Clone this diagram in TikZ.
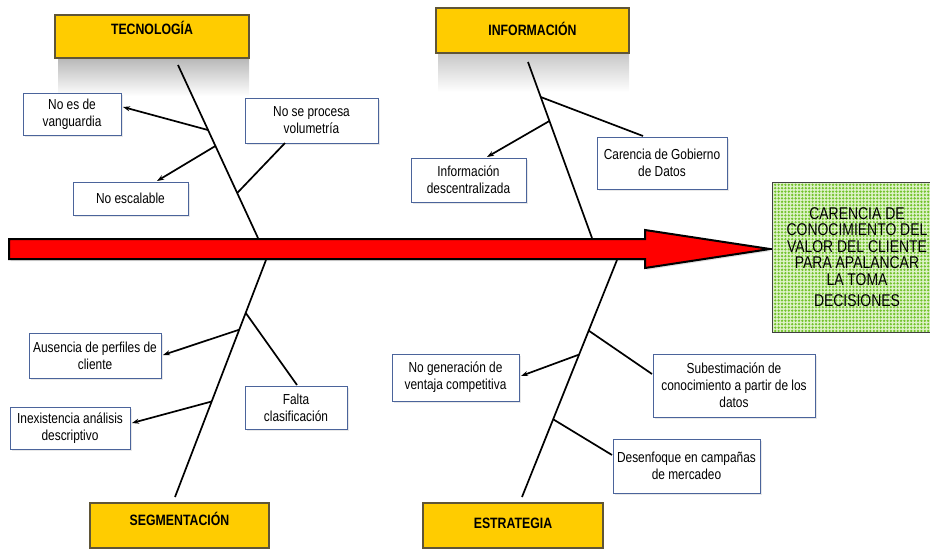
\documentclass[tikz,border=0pt]{standalone}
\usepackage{fontspec}
\setmainfont{Liberation Sans}[FakeStretch=0.82]
\usetikzlibrary{arrows.meta,shadows,patterns.meta,calc}
\definecolor{hdryellow}{RGB}{255,204,0}
\definecolor{hdrborder}{RGB}{95,85,55}
\definecolor{boxblue}{RGB}{75,100,155}
\definecolor{dotgreen}{RGB}{115,195,45}
\definecolor{palegreen}{RGB}{222,242,200}
\begin{document}
\begin{tikzpicture}[x=1pt,y=-1pt,
  header/.style={draw=hdrborder, line width=1.2pt, fill=hdryellow, inner sep=0pt,
    text height=10pt, font=\bfseries\fontsize{15}{16}\selectfont},
  cause/.style={draw=boxblue, line width=0.9pt, fill=white, inner sep=0pt, align=center,
    font=\fontsize{14.5}{17}\selectfont,
    drop shadow={opacity=0.18, shadow xshift=1.5pt, shadow yshift=-1.5pt}},
  bone/.style={line width=1.7pt, draw=black},
  arr/.style={bone, -{Stealth[length=7pt,width=5pt]}},
]
\useasboundingbox (0,0) rectangle (930,552);

% header shadows
\shade[top color=black!28, bottom color=white] (58,58) rectangle (249,96);
\shade[top color=black!22, bottom color=white] (438,53) rectangle (629,92);

% headers
\node[header, text depth=14pt, minimum width=194pt, minimum height=43pt] (tec) at (152,36.5) {TECNOLOGÍA};
\node[header, text depth=-1pt, minimum width=193pt, minimum height=45pt] (inf) at (532.5,30.5) {INFORMACIÓN};
\node[header, text depth=10pt, minimum width=179pt, minimum height=45pt] (seg) at (179.5,525.5) {SEGMENTACIÓN};
\node[header, text depth=4pt, minimum width=180pt, minimum height=45pt] (est) at (513,525.5) {ESTRATEGIA};

% main arrow
\filldraw[fill=red, draw=black, line width=2pt, line join=miter,
  drop shadow={opacity=0.25, shadow xshift=1.5pt, shadow yshift=-2pt}]
  (9,239) -- (645,239) -- (645,230) -- (770,249) -- (645,268) -- (645,259) -- (9,259) -- cycle;

% effect
\node[draw=black!75, line width=1pt, minimum width=170pt, minimum height=150pt, inner sep=0pt,
  preaction={fill=palegreen}, pattern={Dots[distance=3.4pt, radius=1.3pt]}, pattern color=dotgreen,
  align=center, font=\fontsize{17}{16.5}\selectfont] (eff) at (857,257)
  {CARENCIA DE\\CONOCIMIENTO DEL\\VALOR DEL CLIENTE\\PARA APALANCAR\\LA TOMA\\[5pt]DECISIONES};

% cause boxes
\node[cause, minimum width=98pt, minimum height=42pt] (vang) at (72,114) {No es de\\vanguardia};
\node[cause, minimum width=115pt, minimum height=33pt] (escal) at (130.5,198.5) {No escalable};
\node[cause, minimum width=133pt, minimum height=45pt] (vol) at (311.5,120.5) {No se procesa\\volumetría};
\node[cause, minimum width=130pt, minimum height=52pt] (gob) at (662,163) {Carencia de Gobierno\\de Datos};
\node[cause, minimum width=115pt, minimum height=44pt] (desc) at (468.5,180) {Información\\descentralizada};
\node[cause, minimum width=102pt, minimum height=43pt] (falta) at (296,407.5) {Falta\\clasificación};
\node[cause, minimum width=132pt, minimum height=45pt] (aus) at (95,355.5) {Ausencia de perfiles de\\cliente};
\node[cause, minimum width=120pt, minimum height=42pt] (inex) at (70,428) {Inexistencia análisis\\descriptivo};
\node[cause, minimum width=162pt, minimum height=63pt] (sub) at (734,385.5) {Subestimación de\\conocimiento a partir de los\\datos};
\node[cause, minimum width=127pt, minimum height=47pt] (nogen) at (455.5,377.5) {No generación de\\ventaja competitiva};
\node[cause, minimum width=147pt, minimum height=54pt] (desenf) at (686.5,466) {Desenfoque en campañas\\de mercadeo};

% spine coordinates
\coordinate (t1) at (178,65);  \coordinate (t2) at (258,238);
\coordinate (i1) at (528,62);  \coordinate (i2) at (592,238);
\coordinate (s1) at (266,260); \coordinate (s2) at (175,497);
\coordinate (e1) at (617,260); \coordinate (e2) at (522,497);

% branch end coordinates
\coordinate (vangE) at (123,107);
\coordinate (escalE) at (157,181);
\coordinate (volE) at (285,143);
\coordinate (gobE) at (643,136);
\coordinate (descE) at (487,157);
\coordinate (faltaE) at (297,385);
\coordinate (ausE) at (163,355);
\coordinate (inexE) at (132,423);
\coordinate (subE) at (652,374);
\coordinate (nogenE) at (521,376);
\coordinate (desenfE) at (612,455);

% spines
\draw[bone] (t1) -- (t2);
\draw[bone] (i1) -- (i2);
\draw[bone] (s1) -- (s2);
\draw[bone] (e1) -- (e2);

% branches
\draw[arr] ($(t1)!0.376!(t2)$) -- (vangE);
\draw[arr] ($(t1)!0.468!(t2)$) -- (escalE);
\draw[bone] ($(t1)!0.740!(t2)$) -- (volE);
\draw[bone] ($(i1)!0.199!(i2)$) -- (gobE);
\draw[arr] ($(i1)!0.335!(i2)$) -- (descE);
\draw[bone] ($(s1)!0.223!(s2)$) -- (faltaE);
\draw[arr] ($(s1)!0.294!(s2)$) -- (ausE);
\draw[arr] ($(s1)!0.597!(s2)$) -- (inexE);
\draw[bone] ($(e1)!0.298!(e2)$) -- (subE);
\draw[arr] ($(e1)!0.399!(e2)$) -- (nogenE);
\draw[bone] ($(e1)!0.672!(e2)$) -- (desenfE);
\end{tikzpicture}
\end{document}
